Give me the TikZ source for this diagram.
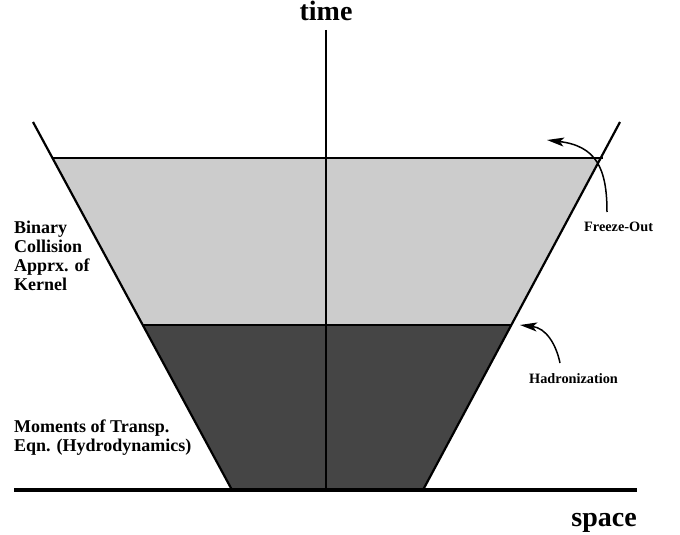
\documentclass[tikz,border=0pt]{standalone}
\usepackage{fontspec}
\setmainfont{Liberation Serif}
\usetikzlibrary{arrows.meta,calc}
\begin{document}
\begin{tikzpicture}[x=1pt,y=-1pt,
  edge/.style={line width=2.2pt, line join=miter},
  lbl/.style={inner sep=0pt, anchor=base west, font=\bfseries\fontsize{18}{19}\selectfont, align=left},
  small/.style={inner sep=0pt, anchor=base west, font=\bfseries\fontsize{14.3}{15}\selectfont},
  big/.style={inner sep=0pt, anchor=base, font=\bfseries\fontsize{28}{30}\selectfont},
  pointer/.style={line width=1.5pt, -{Stealth[length=17pt,width=9pt,inset=4pt]}}]
\useasboundingbox (0,0) rectangle (680,535);
% key points
\coordinate (LT) at (33,122);
\coordinate (LB) at (232,490);
\coordinate (RT) at (620,122);
\coordinate (RB) at (423,490);
\coordinate (FL) at ($(LT)!{(158-122)/368}!(LB)$);
\coordinate (FR) at ($(RT)!{(158-122)/368}!(RB)$);
\coordinate (HL) at ($(LT)!{(325-122)/368}!(LB)$);
\coordinate (HR) at ($(RT)!{(325-122)/368}!(RB)$);
% fills
\fill[black!20] (FL) -- (FR) -- (HR) -- (HL) -- cycle;
\fill[black!73] (HL) -- (HR) -- (RB) -- (LB) -- cycle;
% lines
\draw[edge] (LT) -- (LB);
\draw[edge] (RT) -- (RB);
\draw[edge] (FL) -- ([xshift=2pt]FR);
\draw[edge] (HL) -- (HR);
\coordinate (AT) at (326,30);
\coordinate (AB) at (326,490);
\draw[line width=1.9pt] (AT) -- (AB);
\coordinate (BL) at (14,490);
\coordinate (BR) at (637,490);
\draw[line width=4pt] (BL) -- (BR);
% labels
\node[big] (time) at (326,21) {time};
\node[big, anchor=base east] (space) at (637,526) {space};
\node[lbl] (bck) at (14,290) {Binary\\Collision\\Apprx. of\\Kernel};
\node[lbl] (mom) at (14,451) {Moments of Transp.\\Eqn. (Hydrodynamics)};
\node[small] (fo) at (584,231.5) {Freeze-Out};
\node[small] (had) at (529,383) {Hadronization};
% pointers
\coordinate (fotip) at (547,140);
\coordinate (hadtip) at (520,325);
\draw[pointer] (607,212) .. controls (607,168) and (596,146) .. (fotip);
\draw[pointer] (560,363) .. controls (556,344) and (546,328) .. (hadtip);
\end{tikzpicture}
\end{document}
